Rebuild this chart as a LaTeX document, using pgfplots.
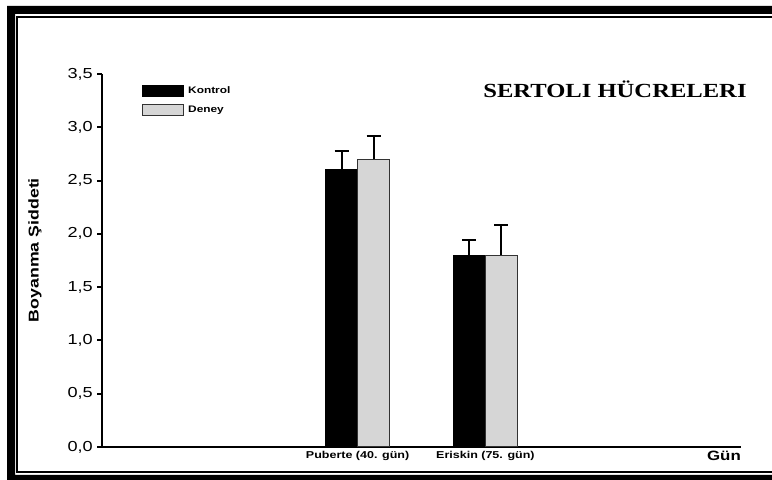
\documentclass[border=0pt]{standalone}
\usepackage{pgfplots}
\pgfplotsset{compat=1.18}
\usepackage{fontspec}
\setmainfont{Liberation Sans}[FakeStretch=1.25]
\newfontfamily\titlefont{Liberation Serif}[FakeStretch=1.23]
\definecolor{deneygray}{RGB}{214,214,214}
\begin{document}
\begin{tikzpicture}
\useasboundingbox (0bp,0bp) rectangle (772bp,480bp);
\fill[black, even odd rule] (7bp,0bp) rectangle (772bp,474bp) (15bp,5bp) rectangle (772bp,466bp);
\draw[line width=2bp] (772bp,463bp) -- (17bp,463bp) -- (17bp,8bp) -- (772bp,8bp);
\begin{axis}[
  at={(102bp,33bp)}, anchor=south west,
  scale only axis, width=639bp, height=373bp,
  xmin=0, xmax=5, ymin=0, ymax=3.5,
  axis x line=bottom, axis y line=left,
  axis line style={-, line width=2bp, black},
  xtick={2,3},
  xticklabels={Puberte (40. gün), Eriskin (75. gün)},
  x tick style={draw=none},
  ytick={0,0.5,1,1.5,2,2.5,3,3.5},
  y tick style={line width=2bp, black},
  tick align=outside, major tick length=5bp,
  /pgf/number format/assume math mode=true,
  /pgf/number format/.cd, use comma, fixed, fixed zerofill, precision=1, /pgfplots/.cd,
  yticklabel style={font=\fontsize{14.5bp}{16bp}\selectfont, inner sep=0pt, xshift=-4bp},
  xticklabel style={font=\fontsize{10bp}{12bp}\selectfont\bfseries, inner sep=0pt, yshift=1bp},
  ylabel={Boyanma Şiddeti},
  ylabel style={font=\fontsize{14.2bp}{16bp}\selectfont\bfseries, at={(axis description cs:-0.105,0.528)}, anchor=center},
  xlabel={Gün},
  xlabel style={font=\fontsize{13.5bp}{15bp}\selectfont\bfseries, at={(axis description cs:1,-0.0349)}, anchor=base east, inner sep=0pt},
  legend image code/.code={\draw[#1, line width=1bp] (0bp,-5.5bp) rectangle (41bp,5.5bp);},
  legend style={at={(axis description cs:0.0626,0.9705)}, anchor=north west, draw=none, fill=none,
    font=\fontsize{9.5bp}{10bp}\selectfont\bfseries, inner sep=0pt, row sep=7bp, column sep=4bp,
    nodes={inner sep=0pt}},
  legend cell align=left,
  clip=false,
]
\addplot[ybar, bar width=32bp, bar shift=0bp, fill=black, draw=black, line width=1bp,
  error bars/.cd, y dir=plus, y explicit,
  error bar style={line width=2bp, black},
  error mark options={rotate=90, mark size=7bp, line width=2bp, black}]
  coordinates {(1.875,2.6) +- (0,0.18) (2.875,1.8) +- (0,0.14)};
\addlegendentry{Kontrol}
\addplot[ybar, bar width=32bp, bar shift=0bp, fill=deneygray, draw=black!80, line width=1bp,
  error bars/.cd, y dir=plus, y explicit,
  error bar style={line width=2bp, black},
  error mark options={rotate=90, mark size=7bp, line width=2bp, black}]
  coordinates {(2.125,2.7) +- (0,0.22) (3.125,1.8) +- (0,0.28)};
\addlegendentry{Deney}
\end{axis}
\node[font=\titlefont\bfseries\fontsize{20bp}{22bp}\selectfont] at (615bp,390.5bp) {SERTOLI HÜCRELERI};
\end{tikzpicture}
\end{document}
